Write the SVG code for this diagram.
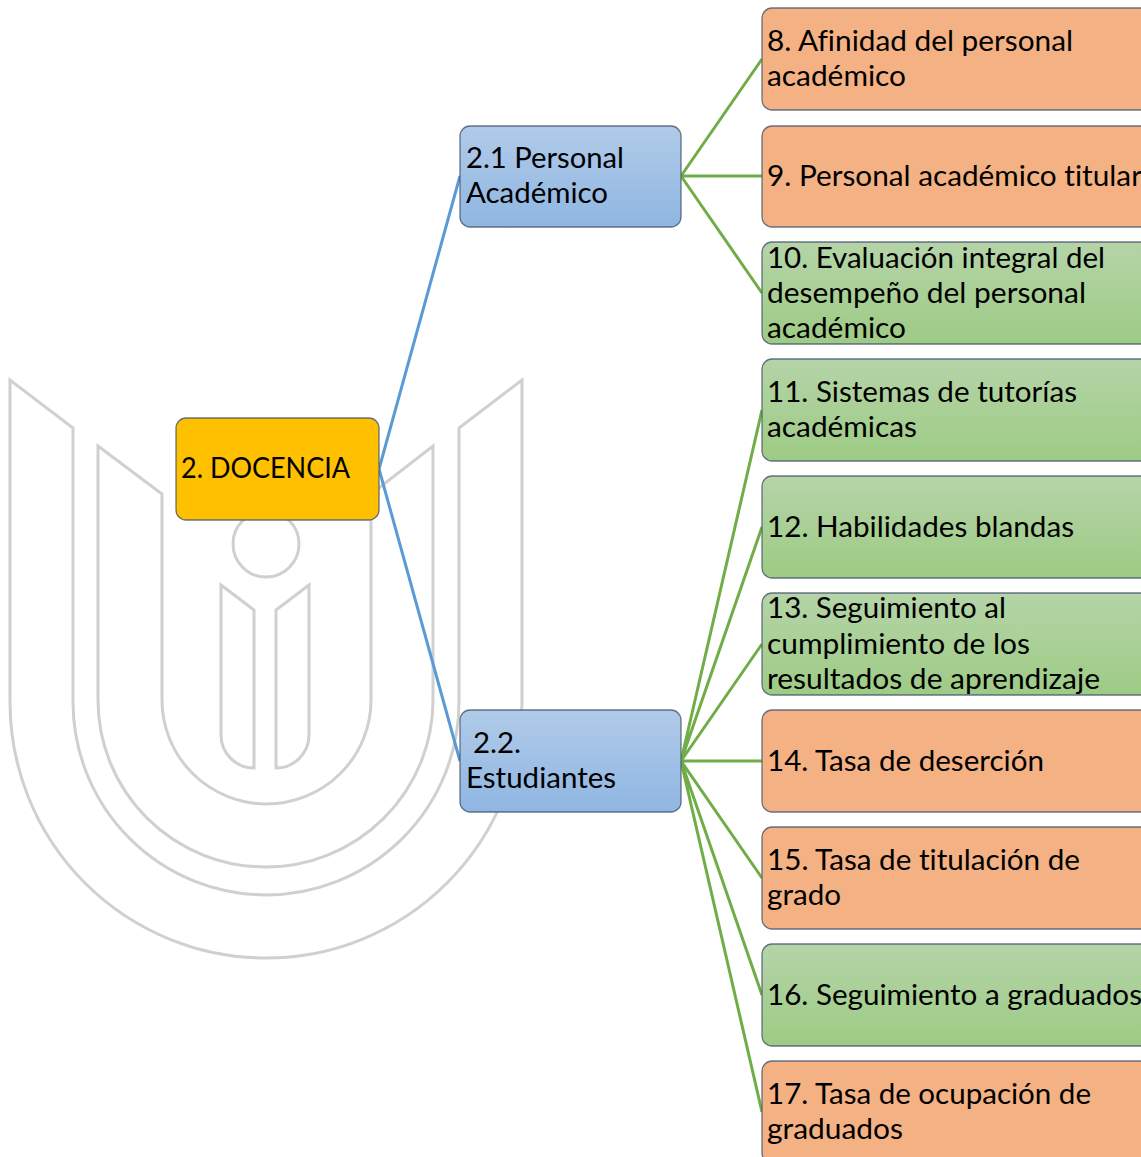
<svg xmlns="http://www.w3.org/2000/svg" width="1141" height="1157" viewBox="0 0 1141 1157">
<style>
text{font-family:Lato,"Open Sans",sans-serif;font-size:29.500px;fill:#000;font-variant-ligatures:none}
.logo{fill:none;stroke:#d0d0d0;stroke-width:3}
.b{stroke:#44546a;stroke-opacity:.8;stroke-width:1.3}
.o{fill:#f4b183}.g{fill:url(#gg)}.bl{fill:url(#gb)}.y{fill:#ffc000}
.cb{stroke:#5b9bd5;stroke-width:3;fill:none}.cg{stroke:#70ad47;stroke-width:3;fill:none}
</style>
<defs>
<linearGradient id="gg" x1="0" y1="0" x2="0" y2="1"><stop offset="0" stop-color="#b5d4a8"/><stop offset="1" stop-color="#9dcb84"/></linearGradient>
<linearGradient id="gb" x1="0" y1="0" x2="0" y2="1"><stop offset="0" stop-color="#b1cbe9"/><stop offset="1" stop-color="#8fb6e2"/></linearGradient>
</defs>
<rect width="1141" height="1157" fill="#fff"/>
<g id="logo" class="logo">
<path d="M10 380V702A256 256 0 0 0 522 702V380L459 428V702A193 193 0 0 1 73 702V428Z"/>
<path d="M98 446L162 494V700A104.500 104 0 0 0 371 700V494L433 446V700A167.500 167 0 0 1 98 700Z"/>
<circle cx="266" cy="544" r="33"/>
<path d="M221 585L254 610V768A33 33 0 0 1 221 735Z"/>
<path d="M309 585L276 610V768A33 33 0 0 0 309 735Z"/>
</g>
<g id="connectors">
<path class="cb" d="M460 176L379 469L460 761"/>
<path class="cg" d="M762 59L681 176M762 176H681M762 293L681 176"/>
<path class="cg" d="M762 410L681 761M762 527L681 761M762 644L681 761M762 761H681M762 878L681 761M762 995L681 761M762 1112L681 761"/>
</g>
<g id="n2"><rect class="b y" x="176" y="418" width="203" height="102" rx="10"/><text x="181" y="478" textLength="169" lengthAdjust="spacingAndGlyphs">2. DOCENCIA</text></g>
<g id="n21"><rect class="b bl" x="460" y="126" width="221" height="101" rx="10"/><text x="466" y="168" textLength="158" lengthAdjust="spacingAndGlyphs">2.1 Personal</text><text x="466" y="203" textLength="142" lengthAdjust="spacingAndGlyphs">Académico</text></g>
<g id="n22"><rect class="b bl" x="460" y="710" width="221" height="102" rx="10"/><text x="473" y="753" textLength="48" lengthAdjust="spacingAndGlyphs">2.2.</text><text x="466" y="788" textLength="150" lengthAdjust="spacingAndGlyphs">Estudiantes</text></g>
<g id="n8"><rect class="b o" x="762" y="8" width="400" height="102" rx="10"/><text x="767" y="51" textLength="306" lengthAdjust="spacingAndGlyphs">8. Afinidad del personal</text><text x="767" y="86" textLength="139" lengthAdjust="spacingAndGlyphs">académico</text></g>
<g id="n9"><rect class="b o" x="762" y="126" width="400" height="101" rx="10"/><text x="767" y="186" textLength="375" lengthAdjust="spacingAndGlyphs">9. Personal académico titular</text></g>
<g id="n10"><rect class="b g" x="762" y="242" width="400" height="102" rx="10"/><text x="767" y="268" textLength="338" lengthAdjust="spacingAndGlyphs">10. Evaluación integral del</text><text x="767" y="303" textLength="319" lengthAdjust="spacingAndGlyphs">desempeño del personal</text><text x="767" y="338" textLength="139" lengthAdjust="spacingAndGlyphs">académico</text></g>
<g id="n11"><rect class="b g" x="762" y="359" width="400" height="102" rx="10"/><text x="767" y="402" textLength="310" lengthAdjust="spacingAndGlyphs">11. Sistemas de tutorías</text><text x="767" y="437" textLength="150" lengthAdjust="spacingAndGlyphs">académicas</text></g>
<g id="n12"><rect class="b g" x="762" y="476" width="400" height="102" rx="10"/><text x="767" y="537" textLength="307" lengthAdjust="spacingAndGlyphs">12. Habilidades blandas</text></g>
<g id="n13"><rect class="b g" x="762" y="593" width="400" height="102" rx="10"/><text x="767" y="618" textLength="239" lengthAdjust="spacingAndGlyphs">13. Seguimiento al</text><text x="767" y="654" textLength="263" lengthAdjust="spacingAndGlyphs">cumplimiento de los</text><text x="767" y="689" textLength="333" lengthAdjust="spacingAndGlyphs">resultados de aprendizaje</text></g>
<g id="n14"><rect class="b o" x="762" y="710" width="400" height="102" rx="10"/><text x="767" y="771" textLength="277" lengthAdjust="spacingAndGlyphs">14. Tasa de deserción</text></g>
<g id="n15"><rect class="b o" x="762" y="827" width="400" height="102" rx="10"/><text x="767" y="870" textLength="313" lengthAdjust="spacingAndGlyphs">15. Tasa de titulación de</text><text x="767" y="905" textLength="74" lengthAdjust="spacingAndGlyphs">grado</text></g>
<g id="n16"><rect class="b g" x="762" y="944" width="400" height="102" rx="10"/><text x="767" y="1005" textLength="375" lengthAdjust="spacingAndGlyphs">16. Seguimiento a graduados</text></g>
<g id="n17"><rect class="b o" x="762" y="1061" width="400" height="102" rx="10"/><text x="767" y="1104" textLength="324" lengthAdjust="spacingAndGlyphs">17. Tasa de ocupación de</text><text x="767" y="1139" textLength="136" lengthAdjust="spacingAndGlyphs">graduados</text></g>
</svg>
